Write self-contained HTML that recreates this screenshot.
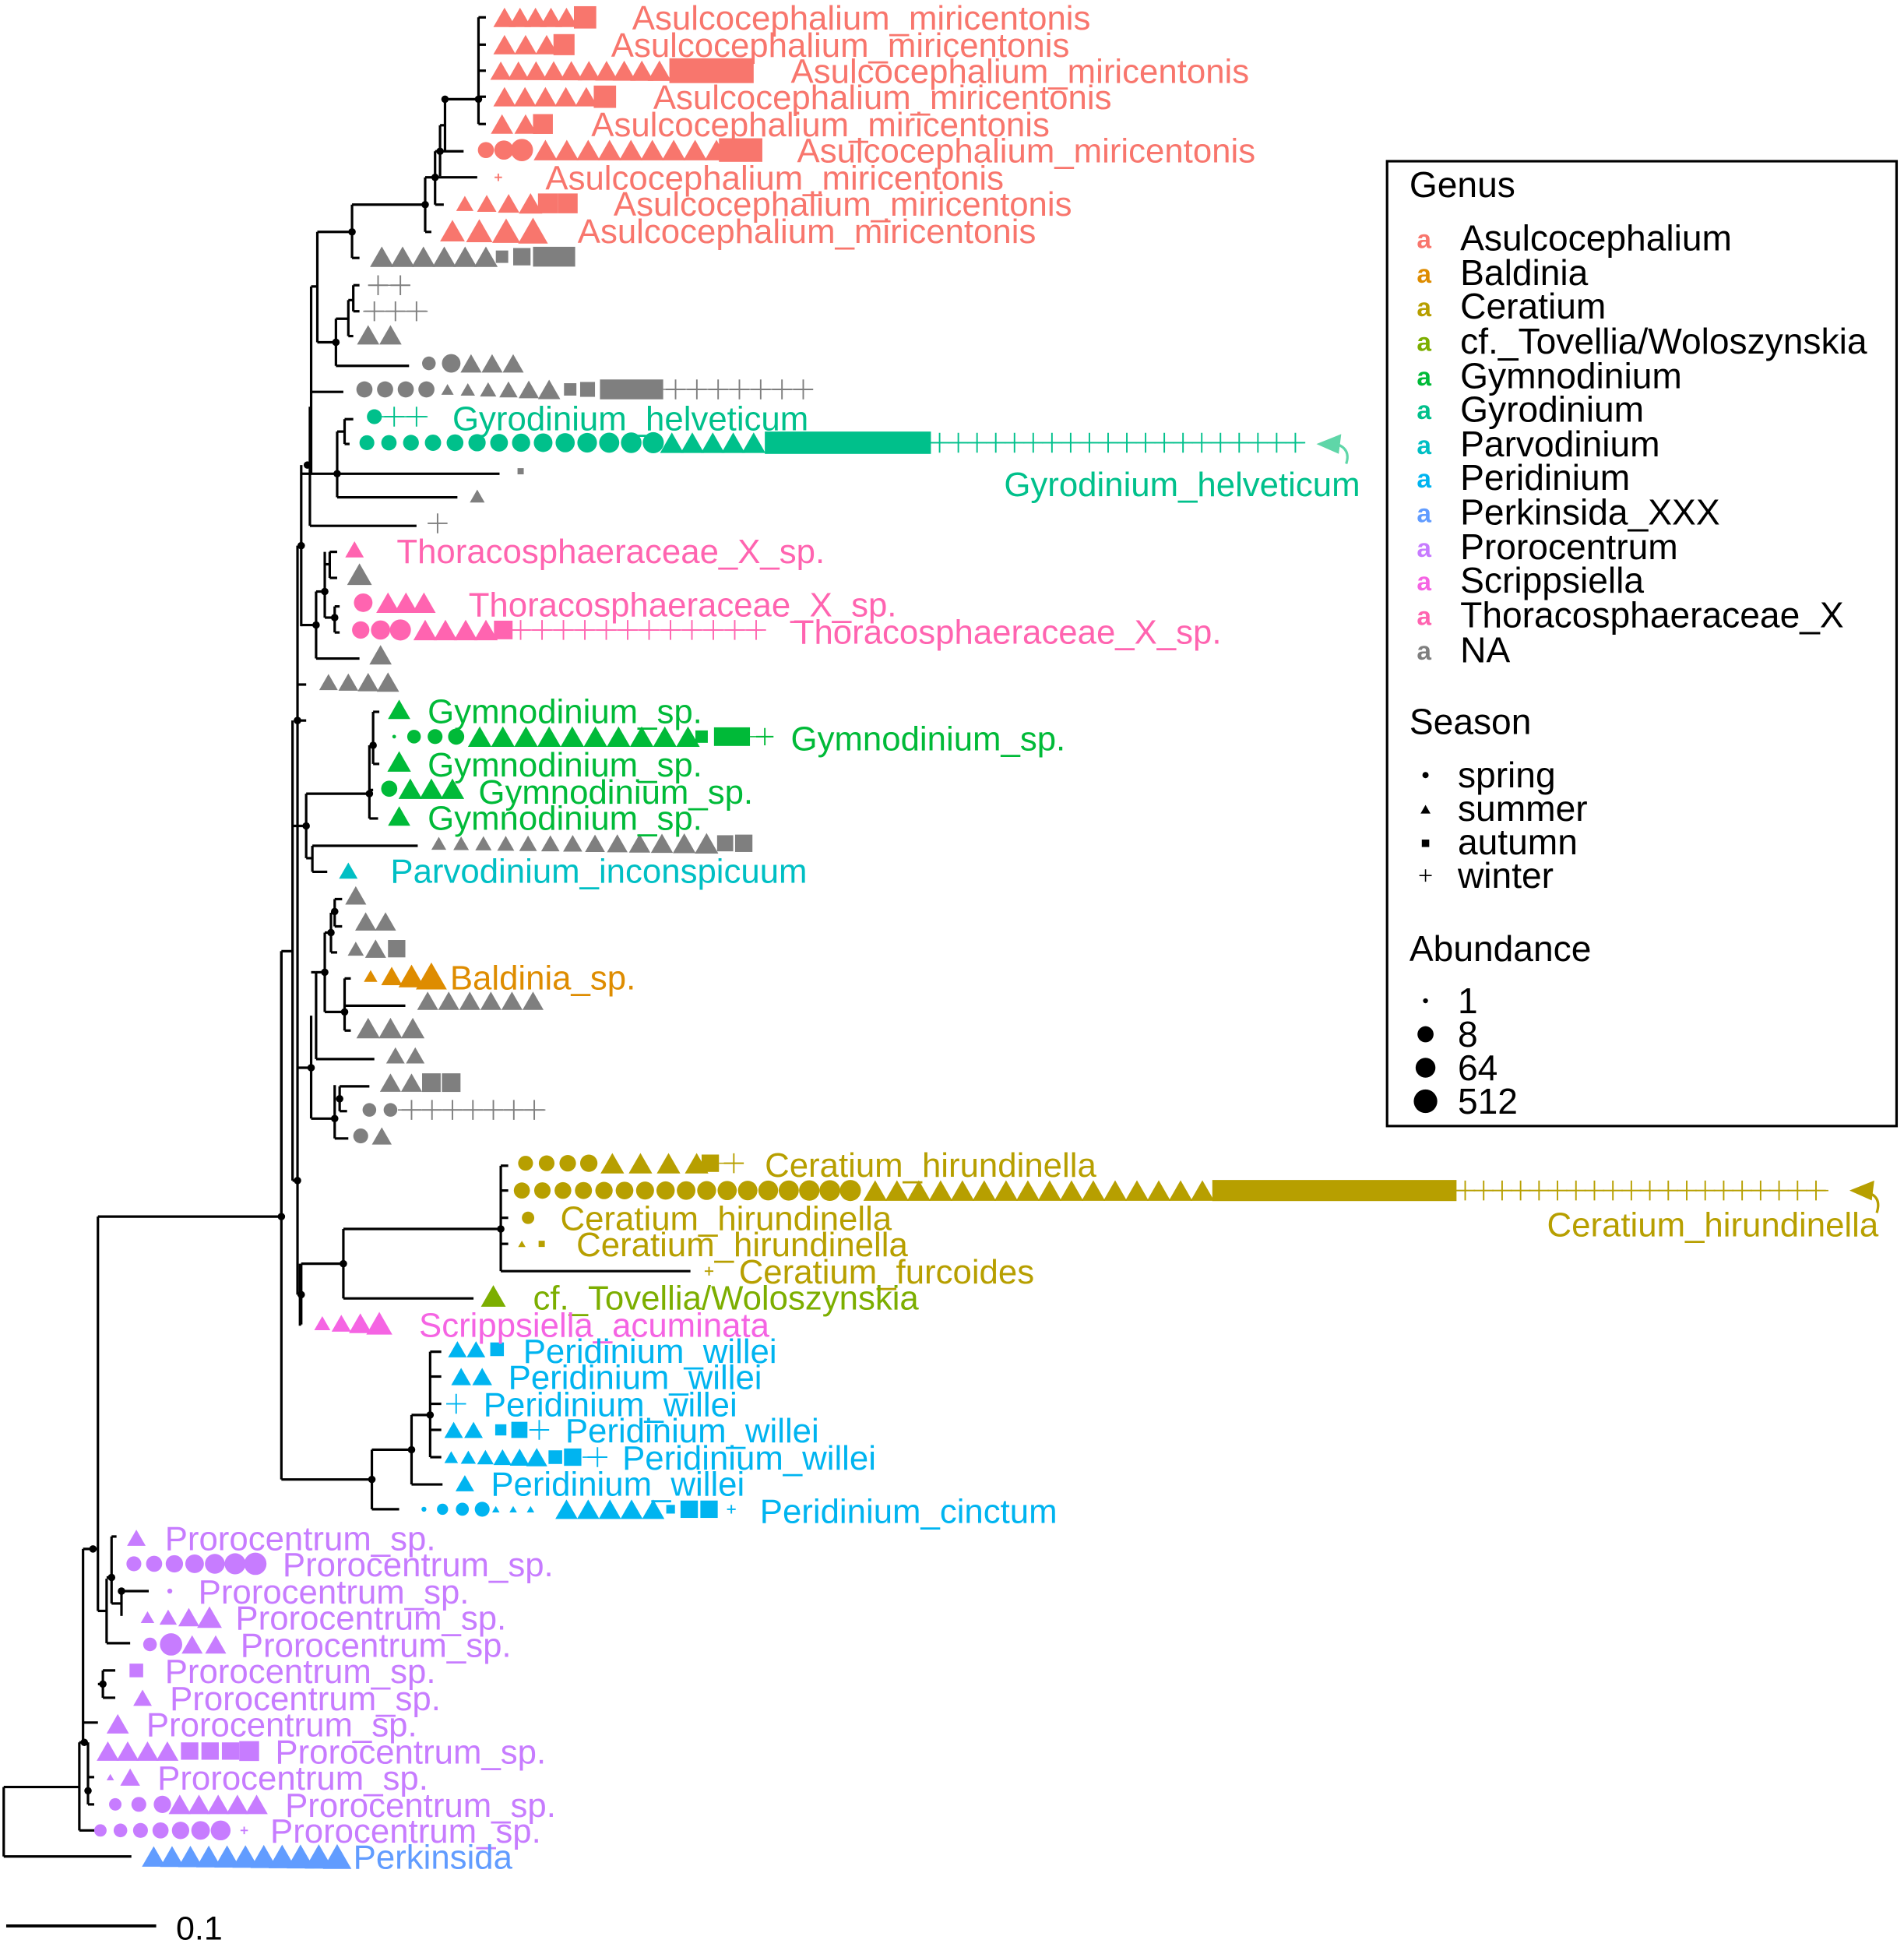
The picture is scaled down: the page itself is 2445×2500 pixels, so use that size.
<!DOCTYPE html>
<html><head><meta charset="utf-8"><style>
html,body{margin:0;padding:0;background:#fff;}
svg{display:block;}
text{font-family:"Liberation Sans",Arial,sans-serif;}
</style></head><body>
<svg id="s" xmlns="http://www.w3.org/2000/svg" width="2445" height="2500" viewBox="0 0 1536 1570" preserveAspectRatio="none">
<g id="tree" stroke="#000" stroke-width="2" fill="none"></g>
<g id="marks"></g>
<g font-size="27.5">
<g fill="#F8766D">
<text x="510" y="24">Asulcocephalium_miricentonis</text>
<text x="493" y="46">Asulcocephalium_miricentonis</text>
<text x="638" y="67">Asulcocephalium_miricentonis</text>
<text x="527" y="88">Asulcocephalium_miricentonis</text>
<text x="477" y="110">Asulcocephalium_miricentonis</text>
<text x="643" y="131">Asulcocephalium_miricentonis</text>
<text x="440" y="153">Asulcocephalium_miricentonis</text>
<text x="495" y="174">Asulcocephalium_miricentonis</text>
<text x="466" y="196">Asulcocephalium_miricentonis</text>
</g>
<g fill="#00C08B">
<text x="365" y="347">Gyrodinium_helveticum</text>
<text x="810" y="400">Gyrodinium_helveticum</text>
</g>
<g fill="#FF64B0">
<text x="320" y="454">Thoracosphaeraceae_X_sp.</text>
<text x="378" y="497">Thoracosphaeraceae_X_sp.</text>
<text x="640" y="519">Thoracosphaeraceae_X_sp.</text>
</g>
<g fill="#00BA38">
<text x="345" y="583">Gymnodinium_sp.</text>
<text x="638" y="605">Gymnodinium_sp.</text>
<text x="345" y="626">Gymnodinium_sp.</text>
<text x="386" y="648">Gymnodinium_sp.</text>
<text x="345" y="669">Gymnodinium_sp.</text>
</g>
<text x="315" y="712" fill="#00BFC4">Parvodinium_inconspicuum</text>
<text x="363" y="798" fill="#DE8C00">Baldinia_sp.</text>
<g fill="#B79F00">
<text x="617" y="949">Ceratium_hirundinella</text>
<text x="1248" y="997">Ceratium_hirundinella</text>
<text x="452" y="992">Ceratium_hirundinella</text>
<text x="465" y="1013">Ceratium_hirundinella</text>
<text x="596" y="1035">Ceratium_furcoides</text>
</g>
<text x="430" y="1056" fill="#7CAE00">cf._Tovellia/Woloszynskia</text>
<text x="338" y="1078" fill="#F564E3">Scrippsiella_acuminata</text>
<g fill="#00B4F0">
<text x="422" y="1099">Peridinium_willei</text>
<text x="410" y="1120">Peridinium_willei</text>
<text x="390" y="1142">Peridinium_willei</text>
<text x="456" y="1163">Peridinium_willei</text>
<text x="502" y="1185">Peridinium_willei</text>
<text x="396" y="1206">Peridinium_willei</text>
<text x="613" y="1228">Peridinium_cinctum</text>
</g>
<g fill="#C77CFF">
<text x="133" y="1250">Prorocentrum_sp.</text>
<text x="228" y="1271">Prorocentrum_sp.</text>
<text x="160" y="1293">Prorocentrum_sp.</text>
<text x="190" y="1314">Prorocentrum_sp.</text>
<text x="194" y="1336">Prorocentrum_sp.</text>
<text x="133" y="1357">Prorocentrum_sp.</text>
<text x="137" y="1379">Prorocentrum_sp.</text>
<text x="118" y="1400">Prorocentrum_sp.</text>
<text x="222" y="1422">Prorocentrum_sp.</text>
<text x="127" y="1443">Prorocentrum_sp.</text>
<text x="230" y="1465">Prorocentrum_sp.</text>
<text x="218" y="1486">Prorocentrum_sp.</text>
</g>
<text x="285" y="1507" fill="#619CFF">Perkinsida</text>
</g>
<!-- scale -->
<line x1="5" y1="1553" x2="126" y2="1553" stroke="#000" stroke-width="2.5"/>
<text x="142" y="1564" font-size="27" fill="#000">0.1</text>
<!-- legend -->
<rect x="1119" y="130" width="411" height="778" fill="none" stroke="#000" stroke-width="2"/>
<g font-size="29" fill="#000">
<text x="1137" y="159">Genus</text>
<text x="1137" y="592">Season</text>
<text x="1137" y="775">Abundance</text>
<text x="1178" y="202">Asulcocephalium</text>
<text x="1178" y="230">Baldinia</text>
<text x="1178" y="257">Ceratium</text>
<text x="1178" y="285">cf._Tovellia/Woloszynskia</text>
<text x="1178" y="313">Gymnodinium</text>
<text x="1178" y="340">Gyrodinium</text>
<text x="1178" y="368">Parvodinium</text>
<text x="1178" y="395">Peridinium</text>
<text x="1178" y="423">Perkinsida_XXX</text>
<text x="1178" y="451">Prorocentrum</text>
<text x="1178" y="478">Scrippsiella</text>
<text x="1178" y="506">Thoracosphaeraceae_X</text>
<text x="1178" y="534">NA</text>
<text x="1176" y="635">spring</text>
<text x="1176" y="662">summer</text>
<text x="1176" y="689">autumn</text>
<text x="1176" y="716">winter</text>
<text x="1176" y="817">1</text>
<text x="1176" y="844">8</text>
<text x="1176" y="871">64</text>
<text x="1176" y="898">512</text>
</g>
<g font-size="21" font-weight="bold">
<text x="1143" y="200" fill="#F8766D">a</text>
<text x="1143" y="228" fill="#DE8C00">a</text>
<text x="1143" y="255" fill="#B79F00">a</text>
<text x="1143" y="283" fill="#7CAE00">a</text>
<text x="1143" y="311" fill="#00BA38">a</text>
<text x="1143" y="338" fill="#00C08B">a</text>
<text x="1143" y="366" fill="#00BFC4">a</text>
<text x="1143" y="393" fill="#00B4F0">a</text>
<text x="1143" y="421" fill="#619CFF">a</text>
<text x="1143" y="449" fill="#C77CFF">a</text>
<text x="1143" y="476" fill="#F564E3">a</text>
<text x="1143" y="504" fill="#FF64B0">a</text>
<text x="1143" y="532" fill="#7F7F7F">a</text>
</g>
<g fill="#000">
<circle cx="1150" cy="625" r="2.5"/>
<polygon points="1146,656 1154,656 1150,649"/>
<rect x="1147" y="677" width="6" height="6"/>
<path d="M1145 706 H1155 M1150 701 V711" stroke="#000" stroke-width="1"/>
<circle cx="1150" cy="807" r="2"/>
<circle cx="1150" cy="834" r="6.5"/>
<circle cx="1150" cy="861" r="8"/>
<circle cx="1150" cy="888" r="9.5"/>
</g>
<!-- curved arrows -->
<g fill="none" stroke-width="2">
<path d="M1078 358 Q1090 362 1086 374" stroke="#5FD6A8"/>
<polygon points="1062,358 1082,350 1080,366" fill="#5FD6A8" stroke="none"/>
<path d="M1508 962 Q1518 966 1514 978" stroke="#B79F00"/>
<polygon points="1492,960 1512,952 1510,968" fill="#B79F00" stroke="none"/>
</g>
</svg>
<script>
(function(){
var NS="http://www.w3.org/2000/svg";
var T=document.getElementById("tree"), M=document.getElementById("marks");
function el(p,tag,a){var e=document.createElementNS(NS,tag);for(var k in a)e.setAttribute(k,a[k]);p.appendChild(e);return e;}
function H(x1,x2,y){el(T,"line",{x1:x1,x2:x2,y1:y,y2:y});}
function V(x,y1,y2){el(T,"line",{x1:x,x2:x,y1:y1,y2:y2});}
function N(x,y){el(T,"circle",{cx:x,cy:y,r:3,fill:"#000",stroke:"none"});}
V(3,1441,1497);H(3,106,1497);H(3,64,1441);
V(64,1405,1476);H(64,78,1476);N(68,1405);
V(67,1249,1405);H(64,67,1405);N(75,1249);H(67,79,1389);
V(71,1405,1455);N(71,1444);H(71,76,1433);H(71,76,1455);
V(79,981,1299);H(67,79,1249);
V(83,1347,1369);N(83,1358);H(79,83,1358);H(83,93,1347);H(83,93,1369);
V(86,1273,1325);H(79,86,1299);H(86,105,1325);
V(90,1239,1293);N(90,1272);H(86,90,1272);H(90,94,1239);H(90,98,1293);
V(98,1283,1303);N(98,1283);H(98,120,1283);
H(79,227,981);N(227,981);
V(227,767,1193);H(227,236,767);
H(227,300,1193);N(300,1193);V(300,1169,1217);H(300,322,1217);H(300,332,1169);N(332,1169);
V(332,1141,1197);H(332,357,1197);H(332,347,1141);N(347,1141);V(347,1090,1175);
[1090,1110,1132,1153,1175].forEach(function(y){H(347,356,y);});
V(240,440,1044);V(236,581,952);N(240,952);N(240,581);H(236,240,952);
V(243,1019,1068);N(243,1044);H(240,243,1044);H(243,277,1019);N(277,1019);
V(277,991,1047);H(277,382,1047);H(277,404,991);N(404,991);V(404,940,1025);
H(404,410,940);H(404,410,960);H(404,410,982);H(404,410,1003);H(404,557,1025);
V(243,375,505);N(243,440);N(248,375);V(250,328,424);H(250,336,424);
V(251,231,382);H(243,251,382);H(251,256,231);
V(256,187,276);H(256,284,187);V(284,165,208);H(284,290,208);N(284,187);
H(284,343,165);N(343,165);V(343,143,187);H(343,348,187);
V(351,122,165);N(351,143);H(343,351,143);H(351,385,143);H(351,358,165);
V(355,101,142);H(351,355,122);N(355,122);H(355,374,122);
V(359,80,122);H(355,359,101);N(359,80);H(359,386,80);
V(386,14,100);N(386,80);[14,36,57,78,100].forEach(function(y){H(386,392,y);});
V(271,257,295);N(271,276);H(256,271,276);H(271,330,295);
V(281,242,271);H(271,281,257);V(285,230,251);H(281,285,242);H(285,290,230);H(285,290,251);H(281,285,271);
H(251,277,316);
V(272,348,401);N(272,382);H(250,272,382);H(272,403,382);H(272,369,401);H(272,278,348);
V(278,338,358);H(278,285,338);H(278,282,358);
V(255,477,531);H(243,255,504);N(255,504);H(255,290,531);
V(262,445,498);N(262,477);H(255,262,477);V(266,445,466);H(262,266,455);H(266,272,445);H(266,272,466);
V(270,489,510);N(270,498);H(262,270,498);H(270,274,489);H(270,274,510);
H(240,247,552);
H(240,247,581);N(240,581);
V(247,640,692);N(247,666);H(236,247,666);H(247,298,640);N(298,640);
V(298,601,660);H(298,305,660);V(301,574,616);N(301,601);H(301,306,574);H(301,306,616);H(298,301,637);
V(252,682,703);H(247,252,692);H(252,337,682);H(252,264,703);
V(227,767,981);
V(251,819,902);N(251,861);H(240,251,861);
V(255,784,854);H(251,255,784);H(255,302,854);
V(262,752,816);N(262,784);H(255,262,784);
V(267,736,768);N(267,752);H(262,267,752);H(267,272,768);
V(270,725,747);N(270,735);H(267,270,736);H(270,276,725);H(270,276,747);
V(278,789,831);N(278,816);H(262,278,816);H(278,327,811);H(278,283,789);H(278,283,831);
V(270,875,918);N(270,902);H(251,270,902);H(270,281,918);
V(274,876,896);N(274,886);H(274,298,876);H(274,280,896);
V(242,1019,1069);
var C={A:"#F8766D",G:"#7F7F7F",Y:"#00C08B",T:"#FF64B0",M:"#00BA38",P:"#00BFC4",B:"#DE8C00",E:"#B79F00",O:"#7CAE00",S:"#F564E3",R:"#00B4F0",U:"#C77CFF",K:"#619CFF"};
function mk(t,x,y,s,c){
 if(t=="t"){var h=s*0.87;el(M,"polygon",{points:(x-s/2)+","+(y+h/2)+" "+(x+s/2)+","+(y+h/2)+" "+x+","+(y-h/2),fill:c});}
 else if(t=="c"){el(M,"circle",{cx:x,cy:y,r:s/2,fill:c});}
 else if(t=="s"){el(M,"rect",{x:x-s/2,y:y-s/2,width:s,height:s,fill:c});}
 else if(t=="p"){el(M,"path",{d:"M"+(x-s/2)+" "+y+"H"+(x+s/2)+"M"+x+" "+(y-s/2)+"V"+(y+s/2),stroke:c,"stroke-width":1.2,fill:"none"});}
}
function R(y,c,runs){c=C[c];runs.forEach(function(r){var t=r[0],x1=r[1],x2=r[2],n=r[3],s=r[4],s2=r[5]||s;
 if(t=="b"){el(M,"rect",{x:x1,y:y-r[3]/2,width:x2-x1,height:r[3],fill:c});return;}
 if(t=="l"){el(M,"line",{x1:x1,x2:x2,y1:y,y2:y,stroke:c,"stroke-width":1});return;}
 for(var i=0;i<n;i++){var f=n>1?i/(n-1):0;mk(t,x1+(x2-x1)*f,y,s+(s2-s)*f,c);}});}
R(14,"A",[["t",407,457,5,18],["s",472,0,1,18]]);
R(36,"A",[["t",407,441,3,18],["s",455,0,1,17]]);
R(57,"A",[["t",404,532,10,17,19],["b",540,608,20]]);
R(78,"A",[["t",407,473,5,18],["s",488,0,1,18]]);
R(100,"A",[["t",405,424,2,18],["s",438,0,1,16]]);
R(121,"A",[["c",392,421,3,13,18],["t",440,578,9,19],["b",580,615,19]]);
R(143,"A",[["p",402,0,1,6]]);
R(164,"A",[["t",375,428,4,14,19],["s",442,458,2,16]]);
R(186,"A",[["t",365,430,4,20,24]]);
R(207,"G",[["t",308,392,6,19],["s",405,0,1,10],["s",421,0,1,14],["b",430,464,16]]);
R(230,"G",[["l",297,331],["p",305,323,2,16]]);
R(251,"G",[["l",293,345],["p",302,336,3,16]]);
R(270,"G",[["t",297,315,2,18]]);
R(293,"G",[["c",346,364,2,11,15],["t",380,414,3,17]]);
R(314,"G",[["c",294,344,4,13],["t",361,443,6,10,18],["s",460,0,1,10],["s",474,0,1,12],["b",484,535,16],["l",535,652],["p",545,648,7,16]]);
R(336,"Y",[["c",302,0,1,12],["l",306,345],["p",318,336,2,16]]);
R(357,"Y",[["c",296,527,14,12,17],["t",542,608,5,19],["b",617,751,18],["l",751,1052],["p",758,1045,20,16]]);
R(380,"G",[["s",420,0,1,5]]);
R(400,"G",[["t",385,0,1,12]]);
R(422,"G",[["p",353,0,1,16]]);
R(443,"T",[["t",286,0,1,15]]);
R(463,"G",[["t",290,0,1,20]]);
R(486,"T",[["c",293,0,1,15],["t",313,342,3,19]]);
R(508,"T",[["c",291,323,3,14,17],["t",343,392,4,19],["s",406,0,1,15],["l",413,615],["p",420,610,12,16]]);
R(528,"G",[["t",307,0,1,18]]);
R(550,"G",[["t",265,313,4,15,18]]);
R(572,"M",[["t",322,0,1,18]]);
R(594,"M",[["c",318,0,1,3],["c",334,368,3,11,13],["t",387,555,10,19],["s",566,0,1,10],["b",576,605,15],["l",605,622],["p",617,0,1,14]]);
R(614,"M",[["t",322,0,1,19]]);
R(636,"M",[["c",314,0,1,13],["t",331,365,3,19]]);
R(658,"M",[["t",322,0,1,18]]);
R(680,"G",[["t",354,570,13,12,19],["s",585,0,1,13],["s",600,0,1,14]]);
R(702,"P",[["t",281,0,1,15]]);
R(722,"G",[["t",287,0,1,17]]);
R(743,"G",[["t",295,311,2,17]]);
R(765,"G",[["t",287,0,1,13],["t",303,0,1,17],["s",320,0,1,14]]);
R(787,"B",[["t",299,0,1,11],["t",316,348,3,17,25]]);
R(807,"G",[["t",345,430,6,17]]);
R(829,"G",[["t",297,333,3,19]]);
R(851,"G",[["t",319,335,2,15]]);
R(873,"G",[["t",315,332,2,17],["s",348,364,2,15]]);
R(895,"G",[["c",298,315,2,11],["l",321,440],["p",332,431,7,16]]);
R(916,"G",[["c",291,0,1,12],["t",308,0,1,16]]);
R(938,"E",[["c",424,475,4,12,14],["t",494,562,4,19],["s",573,0,1,14],["l",580,600],["p",592,0,1,16]]);
R(960,"E",[["c",421,686,17,13,17],["t",706,970,16,19],["b",978,1175,17],["l",1175,1475],["p",1182,1465,20,16]]);
R(982,"E",[["c",426,0,1,10]]);
R(1003,"E",[["t",421,0,1,6],["s",437,0,1,5]]);
R(1025,"E",[["p",572,0,1,7]]);
R(1045,"O",[["t",398,0,1,20]]);
R(1067,"S",[["t",260,306,4,13,21]]);
R(1088,"R",[["t",369,384,2,15],["s",401,0,1,11]]);
R(1110,"R",[["t",372,389,2,16]]);
R(1132,"R",[["p",368,0,1,16]]);
R(1153,"R",[["t",366,382,2,15],["s",404,0,1,9],["s",419,0,1,13],["p",435,0,1,16]]);
R(1175,"R",[["t",364,433,6,11,17],["s",448,0,1,11],["s",462,0,1,14],["l",470,490],["p",482,0,1,16]]);
R(1196,"R",[["t",375,0,1,15]]);
R(1217,"R",[["c",342,0,1,4],["c",357,389,3,9,12],["t",400,428,3,6],["t",457,527,5,18],["s",541,0,1,7],["s",556,572,2,14],["p",590,0,1,7]]);
R(1240,"U",[["t",110,0,1,15]]);
R(1261,"U",[["c",108,206,7,12,18]]);
R(1283,"U",[["c",137,0,1,4]]);
R(1304,"U",[["t",119,169,4,11,20]]);
R(1326,"U",[["c",121,0,1,11],["c",138,0,1,18],["t",155,174,2,17]]);
R(1347,"U",[["s",110,0,1,11]]);
R(1369,"U",[["t",115,0,1,15]]);
R(1390,"U",[["t",95,0,1,18]]);
R(1412,"U",[["t",87,135,4,18],["s",153,186,3,14],["s",201,0,1,16]]);
R(1433,"U",[["t",89,0,1,6],["t",105,0,1,16]]);
R(1455,"U",[["c",93,131,3,10,14],["t",145,207,5,18]]);
R(1476,"U",[["c",81,178,7,10,16],["p",197,0,1,6]]);
R(1497,"K",[["t",124,272,11,19,23]]);
})();
</script>
</body></html>
